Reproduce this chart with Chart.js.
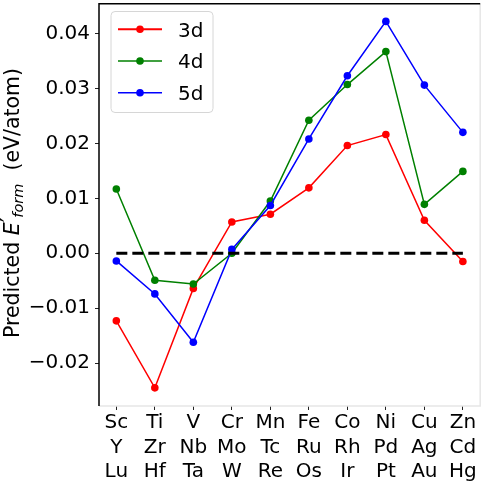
<!DOCTYPE html>
<html>
<head>
<meta charset="utf-8">
<script src="https://cdn.jsdelivr.net/npm/chart.js@4.4.1/dist/chart.umd.min.js"></script>
<style>
  html, body { margin: 0; padding: 0; background: #fff; }
  #wrap { width: 484px; height: 482px; }
</style>
</head>
<body>
<div id="wrap"><canvas id="chart" width="484" height="482"></canvas></div>
<script>
// element columns, one label per row (3d / 4d / 5d)
const row3d = ['Sc', 'Ti', 'V', 'Cr', 'Mn', 'Fe', 'Co', 'Ni', 'Cu', 'Zn'];
const row4d = ['Y', 'Zr', 'Nb', 'Mo', 'Tc', 'Ru', 'Rh', 'Pd', 'Ag', 'Cd'];
const row5d = ['Lu', 'Hf', 'Ta', 'W', 'Re', 'Os', 'Ir', 'Pt', 'Au', 'Hg'];

// predicted formation energy (eV/atom)
const values3d = [-0.0123, -0.0245, -0.0064, 0.0057, 0.0071, 0.0119, 0.0196, 0.0216, 0.0060, -0.0015];
const values4d = [0.0117, -0.0049, -0.0056, 0.0000, 0.0095, 0.0242, 0.0307, 0.0367, 0.0089, 0.0149];
const values5d = [-0.0014, -0.0074, -0.0162, 0.0007, 0.0087, 0.0208, 0.0323, 0.0422, 0.0306, 0.0220];
const zeroLine = [0, 0, 0, 0, 0, 0, 0, 0, 0, 0];

const yTicks = [-0.02, -0.01, 0.00, 0.01, 0.02, 0.03, 0.04];

const FONT = "'DejaVu Sans', 'Liberation Sans', sans-serif";

function pts(vals) {
    return vals.map((v, i) => ({ x: i, y: v }));
}

// spines, legend box and the y title with sub/superscript
const decor = {
    id: 'decor',
    afterDraw(chart) {
        const ctx = chart.ctx;
        const a = chart.chartArea;
        ctx.save();

        // light right/bottom frame, black left/top
        ctx.lineWidth = 1.5;
        ctx.strokeStyle = '#e6e6e6';
        ctx.beginPath();
        ctx.moveTo(a.right, a.top);
        ctx.lineTo(a.right, a.bottom);
        ctx.lineTo(a.left, a.bottom);
        ctx.stroke();
        ctx.strokeStyle = '#000';
        ctx.beginPath();
        ctx.moveTo(a.left, a.bottom);
        ctx.lineTo(a.left, a.top);
        ctx.lineTo(a.right, a.top);
        ctx.stroke();

        // legend
        const lx = 111, ly = 11.5, lw = 102, lh = 101;
        ctx.fillStyle = 'rgba(255,255,255,0.8)';
        ctx.strokeStyle = '#d6d6d6';
        ctx.lineWidth = 1;
        ctx.beginPath();
        ctx.roundRect(lx, ly, lw, lh, 4);
        ctx.fill();
        ctx.stroke();

        const rows = [29.3, 61, 92.7];
        chart.data.datasets.slice(0, 3).forEach((ds, i) => {
            const y = rows[i];
            ctx.strokeStyle = ds.borderColor;
            ctx.lineWidth = i === 0 ? 2 : 1.5;
            ctx.beginPath();
            ctx.moveTo(118, y);
            ctx.lineTo(162, y);
            ctx.stroke();
            ctx.fillStyle = ds.borderColor;
            ctx.beginPath();
            ctx.arc(140, y, 3.8, 0, Math.PI * 2);
            ctx.fill();
            ctx.fillStyle = '#000';
            ctx.font = '20px ' + FONT;
            ctx.textBaseline = 'alphabetic';
            ctx.textAlign = 'left';
            ctx.fillText(ds.label, 178, y + 7.3);
        });

        // y title: Predicted E'_form (eV/atom)
        const parts = [
            { t: 'Predicted ', f: '20.5px ' + FONT, dy: 0 },
            { t: 'E', f: 'italic 20.5px ' + FONT, dy: 0 },
            { t: '′', f: '20.5px ' + FONT, dy: -3 },
            { t: 'form', f: 'italic 14.5px ' + FONT, dy: 4 },
            { t: '  (eV/atom)', f: '20.5px ' + FONT, dy: 0 }
        ];
        let total = 0;
        parts.forEach(p => { ctx.font = p.f; p.w = ctx.measureText(p.t).width; total += p.w; });
        ctx.translate(19, 203);
        ctx.rotate(-Math.PI / 2);
        ctx.fillStyle = '#000';
        ctx.textAlign = 'left';
        ctx.textBaseline = 'alphabetic';
        let x = -total / 2;
        parts.forEach(p => {
            ctx.font = p.f;
            ctx.fillText(p.t, x, p.dy);
            x += p.w;
        });
        ctx.restore();
    }
};

const line = (label, vals, color, order) => ({
    label: label,
    data: pts(vals),
    borderColor: color,
    backgroundColor: color,
    borderWidth: 1.5,
    pointRadius: 3.8,
    pointHoverRadius: 3.8,
    pointBorderWidth: 0,
    tension: 0,
    order: order
});

new Chart(document.getElementById('chart'), {
    type: 'line',
    data: {
        datasets: [
            line('3d', values3d, '#ff0000', 3),
            line('4d', values4d, '#008000', 2),
            line('5d', values5d, '#0000ff', 1),
            {
                label: 'zero',
                data: pts(zeroLine),
                borderColor: '#000',
                borderWidth: 3,
                borderDash: [11, 5],
                pointRadius: 0,
                order: 0
            }
        ]
    },
    options: {
        responsive: false,
        animation: false,
        devicePixelRatio: 1,
        layout: { padding: { top: 1, right: 3, left: 0, bottom: 0 } },
        plugins: {
            legend: { display: false },
            tooltip: { enabled: false }
        },
        scales: {
            x: {
                type: 'linear',
                min: -0.45,
                max: 9.45,
                afterFit: s => { s.height = 76; s.paddingLeft = 0; s.paddingRight = 0; },
                afterBuildTicks: s => { s.ticks = row3d.map((_, i) => ({ value: i })); },
                border: { display: false },
                grid: { drawOnChartArea: false, tickLength: 4, tickColor: '#222', tickWidth: 1 },
                ticks: {
                    color: '#000',
                    padding: 1,
                    maxRotation: 0,
                    autoSkip: false,
                    font: { family: FONT, size: 20, lineHeight: 1.22 },
                    callback: v => [row3d[v], row4d[v], row5d[v]]
                }
            },
            y: {
                min: -0.0278,
                max: 0.0454,
                afterFit: s => { s.width = 99; s.paddingTop = 0; s.paddingBottom = 0; },
                afterBuildTicks: s => { s.ticks = yTicks.map(v => ({ value: v })); },
                border: { display: false },
                grid: { drawOnChartArea: false, tickLength: 4, tickColor: '#222', tickWidth: 1 },
                ticks: {
                    color: '#000',
                    padding: 5,
                    font: { family: FONT, size: 20 },
                    callback: v => v.toFixed(2).replace('-', '\u2212')
                }
            }
        }
    },
    plugins: [decor]
});
</script>
</body>
</html>
